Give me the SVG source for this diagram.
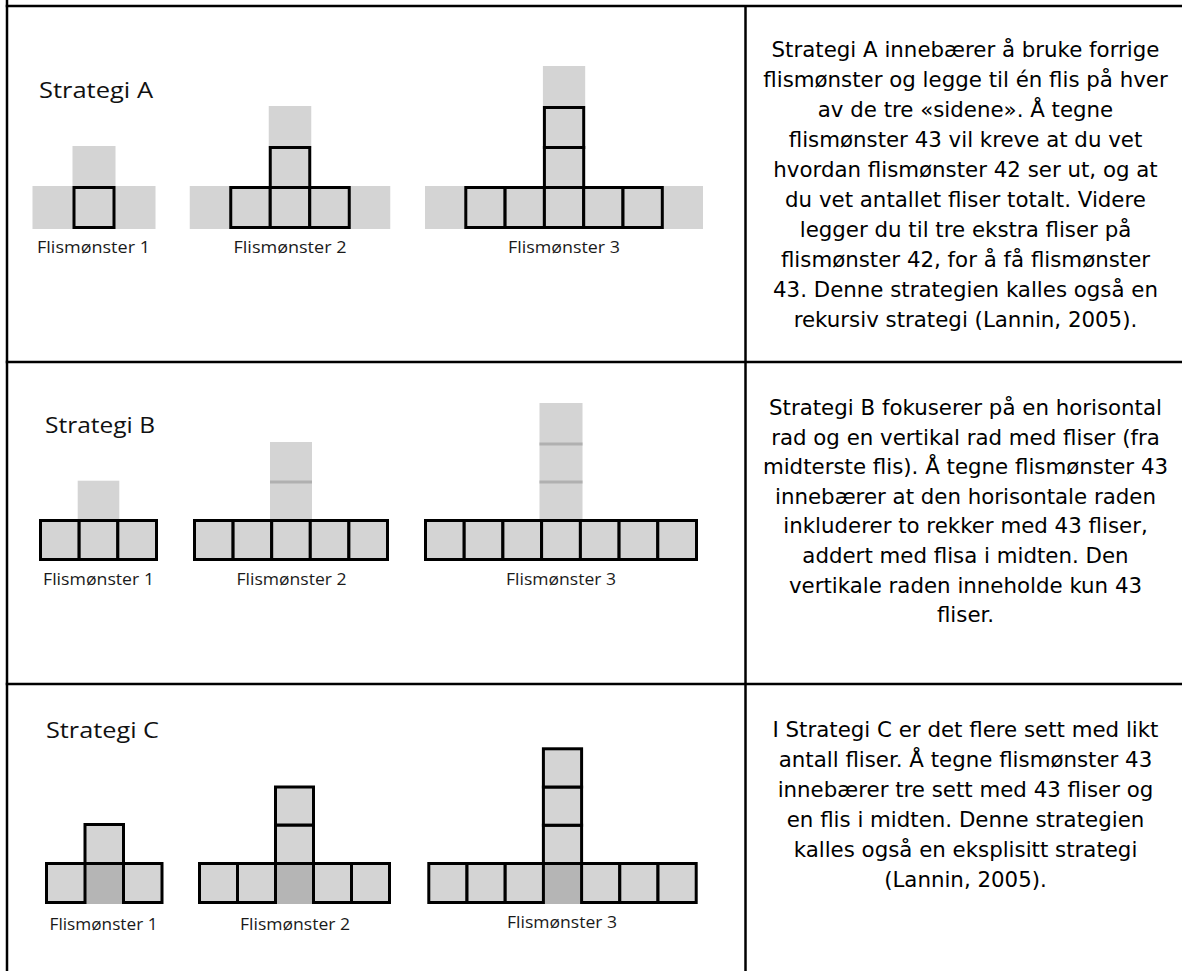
<svg xmlns="http://www.w3.org/2000/svg" width="1182" height="971" viewBox="0 0 1182 971">
<style>
.g{fill:#d4d4d4}
.t{fill:#d4d4d4;stroke:#000;stroke-width:3}
.m{fill:#b5b5b5}
.sep{stroke:#b0b0b0;stroke-width:3}
.line{stroke:#000;stroke-width:2.5;fill:none}
.title{font-family:"Open Sans","Liberation Sans",Arial,sans-serif;font-size:22px;fill:#111}
.lbl{font-family:"Open Sans","Liberation Sans",Arial,sans-serif;font-size:17px;fill:#1a1a1a;text-anchor:middle}
.desc{font-family:"DejaVu Sans",Verdana,sans-serif;font-size:21.33px;fill:#000;text-anchor:middle}
</style>
<rect x="0" y="0" width="1182" height="971" fill="#fff"/>
<g id="table-lines">
<line class="line" x1="7" y1="0" x2="7" y2="971"/>
<line class="line" x1="5.75" y1="6" x2="1182" y2="6"/>
<line class="line" x1="745.5" y1="6" x2="745.5" y2="971"/>
<line class="line" x1="5.75" y1="362" x2="1182" y2="362"/>
<line class="line" x1="5.75" y1="684" x2="1182" y2="684"/>
</g>
<g id="cell-a-fig">
<text class="title" x="39" y="98" textLength="114" lengthAdjust="spacingAndGlyphs">Strategi A</text>
<g id="a1">
<rect class="g" x="32.5" y="186" width="123" height="43"/>
<rect class="g" x="72.5" y="146" width="43" height="42"/>
<rect class="t" x="74" y="187.5" width="40" height="40"/>
<text class="lbl" x="93.5" y="253" textLength="113" lengthAdjust="spacingAndGlyphs">Flismønster 1</text>
</g>
<g id="a2">
<rect class="g" x="189.75" y="186" width="200.5" height="43"/>
<rect class="g" x="268.75" y="106" width="42.5" height="42"/>
<rect class="t" x="230.75" y="187.5" width="39.5" height="40"/>
<rect class="t" x="270.25" y="187.5" width="39.5" height="40"/>
<rect class="t" x="309.75" y="187.5" width="39.5" height="40"/>
<rect class="t" x="270.25" y="147.5" width="39.5" height="40"/>
<text class="lbl" x="290" y="253" textLength="113" lengthAdjust="spacingAndGlyphs">Flismønster 2</text>
</g>
<g id="a3">
<rect class="g" x="425" y="186" width="278" height="43"/>
<rect class="g" x="542.9" y="66" width="42.3" height="42"/>
<rect class="t" x="465.8" y="187.5" width="39.3" height="40"/>
<rect class="t" x="505.1" y="187.5" width="39.3" height="40"/>
<rect class="t" x="544.4" y="187.5" width="39.3" height="40"/>
<rect class="t" x="583.7" y="187.5" width="39.3" height="40"/>
<rect class="t" x="623" y="187.5" width="39.3" height="40"/>
<rect class="t" x="544.4" y="147.5" width="39.3" height="40"/>
<rect class="t" x="544.4" y="107.5" width="39.3" height="40"/>
<text class="lbl" x="564" y="253" textLength="112" lengthAdjust="spacingAndGlyphs">Flismønster 3</text>
</g>
</g>
<g id="cell-a-text">
<text class="desc" x="965.5" y="57">Strategi A innebærer å bruke forrige</text>
<text class="desc" x="965.5" y="87">flismønster og legge til én flis på hver</text>
<text class="desc" x="965.5" y="117">av de tre «sidene». Å tegne</text>
<text class="desc" x="965.5" y="147">flismønster 43 vil kreve at du vet</text>
<text class="desc" x="965.5" y="177">hvordan flismønster 42 ser ut, og at</text>
<text class="desc" x="965.5" y="207">du vet antallet fliser totalt. Videre</text>
<text class="desc" x="965.5" y="237">legger du til tre ekstra fliser på</text>
<text class="desc" x="965.5" y="267">flismønster 42, for å få flismønster</text>
<text class="desc" x="965.5" y="297">43. Denne strategien kalles også en</text>
<text class="desc" x="965.5" y="327">rekursiv strategi (Lannin, 2005).</text>
</g>
<g id="cell-b-fig">
<text class="title" x="45" y="433" textLength="110" lengthAdjust="spacingAndGlyphs">Strategi B</text>
<g id="b1">
<rect class="g" x="77.7" y="480.7" width="41.6" height="40"/>
<rect class="t" x="40.5" y="520.5" width="38.67" height="39"/>
<rect class="t" x="79.17" y="520.5" width="38.67" height="39"/>
<rect class="t" x="117.83" y="520.5" width="38.67" height="39"/>
<text class="lbl" x="98.5" y="585" textLength="111" lengthAdjust="spacingAndGlyphs">Flismønster 1</text>
</g>
<g id="b2">
<rect class="g" x="270" y="442" width="42" height="79"/>
<line class="sep" x1="270" y1="482" x2="312" y2="482"/>
<rect class="t" x="194.5" y="520.5" width="38.6" height="39"/>
<rect class="t" x="233.1" y="520.5" width="38.6" height="39"/>
<rect class="t" x="271.7" y="520.5" width="38.6" height="39"/>
<rect class="t" x="310.3" y="520.5" width="38.6" height="39"/>
<rect class="t" x="348.9" y="520.5" width="38.6" height="39"/>
<text class="lbl" x="291.5" y="585" textLength="110" lengthAdjust="spacingAndGlyphs">Flismønster 2</text>
</g>
<g id="b3">
<rect class="g" x="539.5" y="403" width="43" height="118"/>
<line class="sep" x1="539.5" y1="444" x2="582.5" y2="444"/>
<line class="sep" x1="539.5" y1="482" x2="582.5" y2="482"/>
<rect class="t" x="425.5" y="520.5" width="38.7" height="39"/>
<rect class="t" x="464.2" y="520.5" width="38.7" height="39"/>
<rect class="t" x="502.9" y="520.5" width="38.7" height="39"/>
<rect class="t" x="541.6" y="520.5" width="38.8" height="39"/>
<rect class="t" x="580.4" y="520.5" width="38.7" height="39"/>
<rect class="t" x="619.1" y="520.5" width="38.7" height="39"/>
<rect class="t" x="657.8" y="520.5" width="38.7" height="39"/>
<text class="lbl" x="561" y="585" textLength="110" lengthAdjust="spacingAndGlyphs">Flismønster 3</text>
</g>
</g>
<g id="cell-b-text">
<text class="desc" x="965.5" y="415">Strategi B fokuserer på en horisontal</text>
<text class="desc" x="965.5" y="444.6">rad og en vertikal rad med fliser (fra</text>
<text class="desc" x="965.5" y="474.2">midterste flis). Å tegne flismønster 43</text>
<text class="desc" x="965.5" y="503.8">innebærer at den horisontale raden</text>
<text class="desc" x="965.5" y="533.4">inkluderer to rekker med 43 fliser,</text>
<text class="desc" x="965.5" y="563">addert med flisa i midten. Den</text>
<text class="desc" x="965.5" y="592.6">vertikale raden inneholde kun 43</text>
<text class="desc" x="965.5" y="622.2">fliser.</text>
</g>
<g id="cell-c-fig">
<text class="title" x="46" y="738" textLength="113" lengthAdjust="spacingAndGlyphs">Strategi C</text>
<g id="c1">
<rect class="m" x="85" y="863.5" width="38.5" height="40.5"/>
<rect class="t" x="46.5" y="863.5" width="38.5" height="39"/>
<rect class="t" x="123.5" y="863.5" width="38.5" height="39"/>
<rect class="t" x="85" y="824.5" width="38.5" height="39"/>
<text class="lbl" x="103.5" y="930" textLength="108" lengthAdjust="spacingAndGlyphs">Flismønster 1</text>
</g>
<g id="c2">
<rect class="m" x="275.5" y="863.5" width="38" height="40.5"/>
<rect class="t" x="199.5" y="863.5" width="38" height="39"/>
<rect class="t" x="237.5" y="863.5" width="38" height="39"/>
<rect class="t" x="313.5" y="863.5" width="38" height="39"/>
<rect class="t" x="351.5" y="863.5" width="38" height="39"/>
<rect class="t" x="275.5" y="825" width="38" height="38.5"/>
<rect class="t" x="275.5" y="787" width="38" height="38"/>
<text class="lbl" x="295" y="930" textLength="110" lengthAdjust="spacingAndGlyphs">Flismønster 2</text>
</g>
<g id="c3">
<rect class="m" x="543.4" y="863.5" width="38.2" height="40.5"/>
<rect class="t" x="428.8" y="863.5" width="38.2" height="39"/>
<rect class="t" x="467" y="863.5" width="38.2" height="39"/>
<rect class="t" x="505.2" y="863.5" width="38.2" height="39"/>
<rect class="t" x="581.6" y="863.5" width="38.2" height="39"/>
<rect class="t" x="619.8" y="863.5" width="38.2" height="39"/>
<rect class="t" x="658" y="863.5" width="38.2" height="39"/>
<rect class="t" x="543.4" y="825.2" width="38.2" height="38.3"/>
<rect class="t" x="543.4" y="787" width="38.2" height="38.2"/>
<rect class="t" x="543.4" y="748.8" width="38.2" height="38.2"/>
<text class="lbl" x="562" y="928" textLength="110" lengthAdjust="spacingAndGlyphs">Flismønster 3</text>
</g>
</g>
<g id="cell-c-text">
<text class="desc" x="965.5" y="737">I Strategi C er det flere sett med likt</text>
<text class="desc" x="965.5" y="767">antall fliser. Å tegne flismønster 43</text>
<text class="desc" x="965.5" y="797">innebærer tre sett med 43 fliser og</text>
<text class="desc" x="965.5" y="827">en flis i midten. Denne strategien</text>
<text class="desc" x="965.5" y="857">kalles også en eksplisitt strategi</text>
<text class="desc" x="965.5" y="887">(Lannin, 2005).</text>
</g>
</svg>
